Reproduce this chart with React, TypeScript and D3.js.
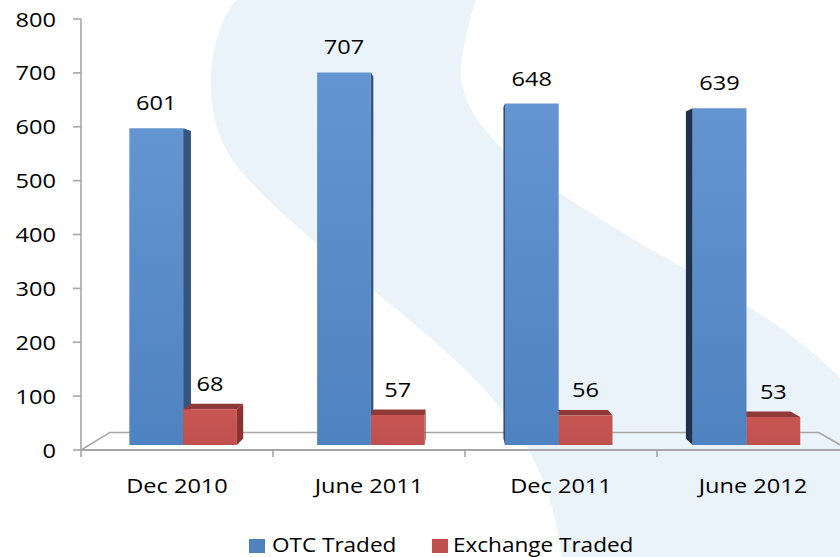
import React from "react";
import * as d3 from "d3";

const categories = ["Dec 2010", "June 2011", "Dec 2011", "June 2012"];
const seriesNames = ["OTC Traded", "Exchange Traded"];
const otcValues = [601, 707, 648, 639];
const exchangeValues = [68, 57, 56, 53];
const yTicks = [0, 100, 200, 300, 400, 500, 600, 700, 800];

const W = 840;
const H = 557;
const FONT = "'Open Sans', 'Noto Sans', sans-serif";
const SX = 1.15;
const FS = 20.5;

const VP: [number, number] = [456, 222];
const D1 = 0.022;
const D2 = 0.05;
const DF = 0.077;

function proj(x: number, y: number, d: number): [number, number] {
  return [x + d * (VP[0] - x), y + d * (VP[1] - y)];
}
function poly(pts: [number, number][]) {
  return pts.map((p) => `${p[0].toFixed(2)},${p[1].toFixed(2)}`).join(" ");
}

const colors = {
  otc: { front: "url(#gBlue)", side: "#34557f", sideL: "#1f324d", top: "#7aa0d4" },
  exc: { front: "url(#gRed)", side: "#8a3331", sideL: "#7a2d2b", top: "#8f3936" },
};

function T(props: { x: number; y: number; anchor?: string; size?: number; sx?: number; children: any }) {
  const { x, y, anchor = "middle", size = FS, sx = SX, children } = props;
  return (
    <text
      transform={`translate(${x},${y}) scale(${sx},1)`}
      textAnchor={anchor as any}
      fontFamily={FONT}
      fontSize={size}
      fill="#000"
    >
      {children}
    </text>
  );
}

export default function App() {
  const x = d3.scaleBand<string>().domain(categories).range([81, 849]).paddingInner(0).paddingOuter(0);
  const inner = d3.scaleBand<string>().domain(seriesNames).range([41, 151]).padding(0);
  const y = d3.scaleLinear().domain([0, 800]).range([450, 19]);

  type Bar = { cat: string; s: string; v: number; key: "otc" | "exc" };
  const bars: Bar[] = [];
  categories.forEach((c, i) => {
    bars.push({ cat: c, s: seriesNames[0], v: otcValues[i], key: "otc" });
    bars.push({ cat: c, s: seriesNames[1], v: exchangeValues[i], key: "exc" });
  });
  const geo = bars.map((b) => {
    const x0 = (x(b.cat) as number) + (inner(b.s) as number);
    const x1 = x0 + inner.bandwidth();
    const yt = y(b.v);
    const yb = y(0);
    return { ...b, x0, x1, yt, yb, cx: (x0 + x1) / 2 };
  });
  const order = [...geo].sort((a, b) => Math.abs(b.cx - VP[0]) - Math.abs(a.cx - VP[0]));

  const swoosh =
    "M236,0 C205,40 198,120 240,170 C300,240 420,320 480,385 C528,435 552,485 562,557 L840,557 L840,378 C780,315 690,275 605,222 C520,170 452,120 462,60 C466,30 472,12 476,0 Z";

  return (
    <svg width={W} height={H} style={{ position: "absolute", left: 0, top: 0, background: "#fff" }}>
      <defs>
        <linearGradient id="gBlue" x1="0" y1="0" x2="0" y2="1">
          <stop offset="0" stopColor="#6495d1" />
          <stop offset="1" stopColor="#4f82c0" />
        </linearGradient>
        <linearGradient id="gRed" x1="0" y1="0" x2="0" y2="1">
          <stop offset="0" stopColor="#c85754" />
          <stop offset="1" stopColor="#c0504d" />
        </linearGradient>
      </defs>
      <rect x={0} y={0} width={W} height={H} fill="#fff" />
      <path d={swoosh} fill="#ebf3fa" />

      {/* floor */}
      <polygon
        points={poly([proj(81, 450, 0), proj(849, 450, 0), proj(849, 450, DF), proj(81, 450, DF)])}
        fill="none"
        stroke="#a6a6a6"
        strokeWidth={1.6}
      />
      {/* category axis */}
      <line x1={81} x2={849} y1={y(0)} y2={y(0)} stroke="#a6a6a6" strokeWidth={2} />
      {[...categories.map((c) => x(c) as number), 849].map((t, i) => (
        <line key={i} x1={t} x2={t} y1={y(0)} y2={y(0) + 7} stroke="#a6a6a6" strokeWidth={1.6} />
      ))}
      {/* value axis */}
      <line x1={81} x2={81} y1={y(800)} y2={y(0)} stroke="#a6a6a6" strokeWidth={1.6} />
      {yTicks.map((t) => (
        <g key={t}>
          <line x1={73} x2={81} y1={y(t)} y2={y(t)} stroke="#a6a6a6" strokeWidth={1.6} />
          <T x={56} y={y(t) + 7.5} anchor="end">
            {t}
          </T>
        </g>
      ))}

      {/* bars */}
      {order.map((b, i) => {
        const c = colors[b.key];
        const leftOfVp = b.cx < VP[0];
        const sx = leftOfVp ? b.x1 : b.x0;
        const side = [proj(sx, b.yt, D1), proj(sx, b.yt, D2), proj(sx, b.yb, D2), proj(sx, b.yb, D1)];
        const top = [proj(b.x0, b.yt, D1), proj(b.x1, b.yt, D1), proj(b.x1, b.yt, D2), proj(b.x0, b.yt, D2)];
        const front = [proj(b.x0, b.yt, D1), proj(b.x1, b.yt, D1), proj(b.x1, b.yb, D1), proj(b.x0, b.yb, D1)];
        return (
          <g key={i}>
            <polygon points={poly(side)} fill={leftOfVp ? c.side : c.sideL} />
            {b.yt > VP[1] && <polygon points={poly(top)} fill={c.top} />}
            <polygon points={poly(front)} fill={c.front} />
          </g>
        );
      })}

      {/* value labels */}
      {geo.map((b, i) => {
        const p0 = proj(b.x0, b.yt, D1);
        const p1 = proj(b.x1, b.yt, D1);
        return (
          <T key={i} x={(p0[0] + p1[0]) / 2} y={p0[1] - 18}>
            {b.v}
          </T>
        );
      })}

      {/* category labels */}
      {categories.map((c) => (
        <T key={c} x={(x(c) as number) + x.bandwidth() / 2} y={493}>
          {c}
        </T>
      ))}

      {/* legend */}
      <rect x={249} y={539} width={16} height={14} fill="#4f81bd" />
      <T x={272} y={552} anchor="start" sx={1.1}>
        {seriesNames[0]}
      </T>
      <rect x={432} y={539} width={16} height={14} fill="#c0504d" />
      <T x={453} y={552} anchor="start" sx={1.1}>
        {seriesNames[1]}
      </T>
    </svg>
  );
}
